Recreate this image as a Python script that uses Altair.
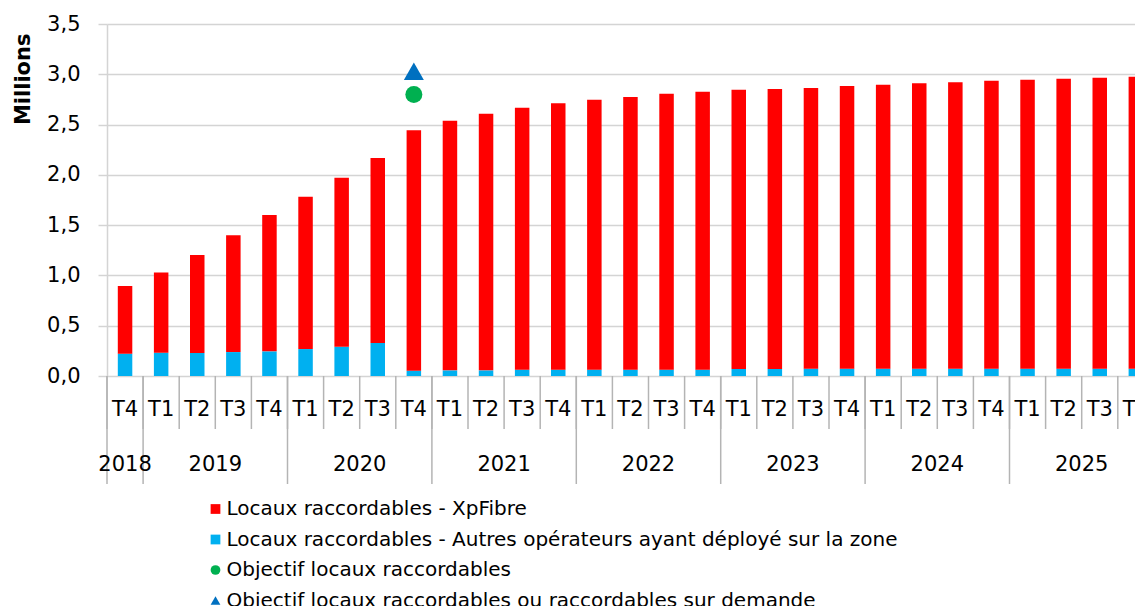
import altair as alt
import pandas as pd

# ---- data ----
quarter_labels = ["T4",
                  "T1", "T2", "T3", "T4",
                  "T1", "T2", "T3", "T4",
                  "T1", "T2", "T3", "T4",
                  "T1", "T2", "T3", "T4",
                  "T1", "T2", "T3", "T4",
                  "T1", "T2", "T3", "T4",
                  "T1", "T2", "T3", "T4"]
year_labels = ["2018", "2019", "2020", "2021", "2022", "2023", "2024", "2025"]
year_first_idx = [0, 1, 5, 9, 13, 17, 21, 25]
year_last_idx = [0, 4, 8, 12, 16, 20, 24, 28]

xpfibre = [0.673, 0.798, 0.974, 1.162, 1.355, 1.514, 1.680, 1.839,
           2.390, 2.481, 2.551, 2.604, 2.650, 2.684, 2.710, 2.743, 2.763,
           2.776, 2.783, 2.790, 2.810, 2.823, 2.839, 2.849, 2.862, 2.872,
           2.882, 2.892, 2.902]
autres = [0.222, 0.232, 0.229, 0.238, 0.245, 0.268, 0.291, 0.328,
          0.053, 0.056, 0.056, 0.063, 0.063, 0.063, 0.063, 0.063, 0.063,
          0.070, 0.070, 0.073, 0.073, 0.073, 0.073, 0.073, 0.073, 0.073,
          0.073, 0.073, 0.073]

obj_idx = 8  # 2020 T4
obj_raccordables = 2.80
obj_sur_demande = 3.03

series_names = ["Locaux raccordables - XpFibre",
                "Locaux raccordables - Autres opérateurs ayant déployé sur la zone",
                "Objectif locaux raccordables",
                "Objectif locaux raccordables ou raccordables sur demande"]
series_colors = ["#FF0000", "#00B0F0", "#00B050", "#0070C0"]
series_shapes = ["square", "square", "circle", "triangle-up"]

# ---- tables ----
n = len(quarter_labels)
rows = []
for i in range(n):
    rows.append({"idx": i, "series": series_names[1], "value": autres[i], "ord": 0})
    rows.append({"idx": i, "series": series_names[0], "value": xpfibre[i], "ord": 1})
bars_df = pd.DataFrame(rows)

circle_df = pd.DataFrame({"idx": [obj_idx], "series": [series_names[2]],
                          "value": [obj_raccordables]})
tri_df = pd.DataFrame({"idx": [obj_idx], "series": [series_names[3]],
                       "value": [obj_sur_demande]})

q_df = pd.DataFrame({"idx": list(range(n)), "label": quarter_labels})
y_df = pd.DataFrame({
    "pos": [(a + b) / 2 for a, b in zip(year_first_idx, year_last_idx)],
    "label": year_labels,
})
qsep_df = pd.DataFrame({"pos": [i - 0.5 for i in range(n)]})
ysep_df = pd.DataFrame({"pos": [i - 0.5 for i in year_first_idx]})

# ---- layout ----
FONT = "DejaVu Sans"
W, H = 1028, 352
band = 36.1
xdom = [-0.5, -0.5 + W / band]
xscale = alt.Scale(domain=xdom, nice=False, zero=False, padding=0)
yscale = alt.Scale(domain=[0, 3.5], nice=False)

legend = alt.Legend(title=None, orient="none", legendX=98.5, legendY=475,
                    direction="vertical", labelFontSize=20,
                    labelFont=FONT, labelColor="#000000",
                    symbolSize=95, symbolStrokeWidth=0,
                    labelOffset=1, rowPadding=10.5, labelLimit=1000,
                    padding=0)
color = alt.Color("series:N",
                  scale=alt.Scale(domain=series_names, range=series_colors),
                  legend=legend)
shape = alt.Shape("series:N",
                  scale=alt.Scale(domain=series_names, range=series_shapes),
                  legend=legend)

bars = alt.Chart(bars_df).mark_bar(size=14.5).encode(
    x=alt.X("idx:Q", scale=xscale,
            axis=alt.Axis(labels=False, ticks=False, grid=False, title=None,
                          domainColor="#c8c8c8", domainWidth=1.5)),
    y=alt.Y("sum(value):Q", scale=yscale, stack="zero",
            axis=alt.Axis(values=[0, 0.5, 1, 1.5, 2, 2.5, 3, 3.5],
                          labelExpr="replace(format(datum.value, '.1f'), '.', ',')",
                          labelFontSize=21, labelFont=FONT, labelColor="#000000",
                          labelPadding=18, tickSize=9, tickColor="#d4d4d4", tickWidth=1.5,
                          gridColor="#d4d4d4", gridWidth=1.5,
                          domainColor="#d4d4d4", domainWidth=1.5,
                          title="Millions", titleFont=FONT, titleFontSize=21,
                          titleFontWeight="bold", titleColor="#000000",
                          titleAngle=270, titleAlign="right", titleBaseline="middle",
                          titleX=-84, titleY=9)),
    color=color,
    order=alt.Order("ord:Q"),
)

circle_pt = alt.Chart(circle_df).mark_point(filled=True, size=290, opacity=1).encode(
    x=alt.X("idx:Q", scale=xscale, axis=None),
    y=alt.Y("value:Q", scale=yscale),
    color=color,
    shape=shape,
)
tri_pt = alt.Chart(tri_df).mark_point(filled=True, size=400, opacity=1).encode(
    x=alt.X("idx:Q", scale=xscale, axis=None),
    y=alt.Y("value:Q", scale=yscale),
    color=color,
    shape=shape,
)

qsep = alt.Chart(qsep_df).mark_rule(color="#b4b4b4", strokeWidth=1.5).encode(
    x=alt.X("pos:Q", scale=xscale, axis=None),
    y=alt.value(H), y2=alt.value(H + 53),
)
ysep = alt.Chart(ysep_df).mark_rule(color="#b4b4b4", strokeWidth=1.5).encode(
    x=alt.X("pos:Q", scale=xscale, axis=None),
    y=alt.value(H), y2=alt.value(H + 108),
)
qtext = alt.Chart(q_df).mark_text(fontSize=21, font=FONT, color="#000000",
                                  baseline="middle", align="center").encode(
    x=alt.X("idx:Q", scale=xscale, axis=None),
    y=alt.value(H + 34),
    text="label:N",
)
ytext = alt.Chart(y_df).mark_text(fontSize=21, font=FONT, color="#000000",
                                  baseline="middle", align="center").encode(
    x=alt.X("pos:Q", scale=xscale, axis=None),
    y=alt.value(H + 89),
    text="label:N",
)

chart = alt.layer(bars, qsep, ysep, qtext, ytext, circle_pt, tri_pt).properties(
    width=W, height=H,
    autosize=alt.AutoSizeParams(type="none"),
    padding={"left": 99, "top": 16, "right": 0, "bottom": 230},
).configure(font=FONT).configure_view(stroke=None)

chart.save("out.html", embed_options={"renderer": "svg", "actions": False})
